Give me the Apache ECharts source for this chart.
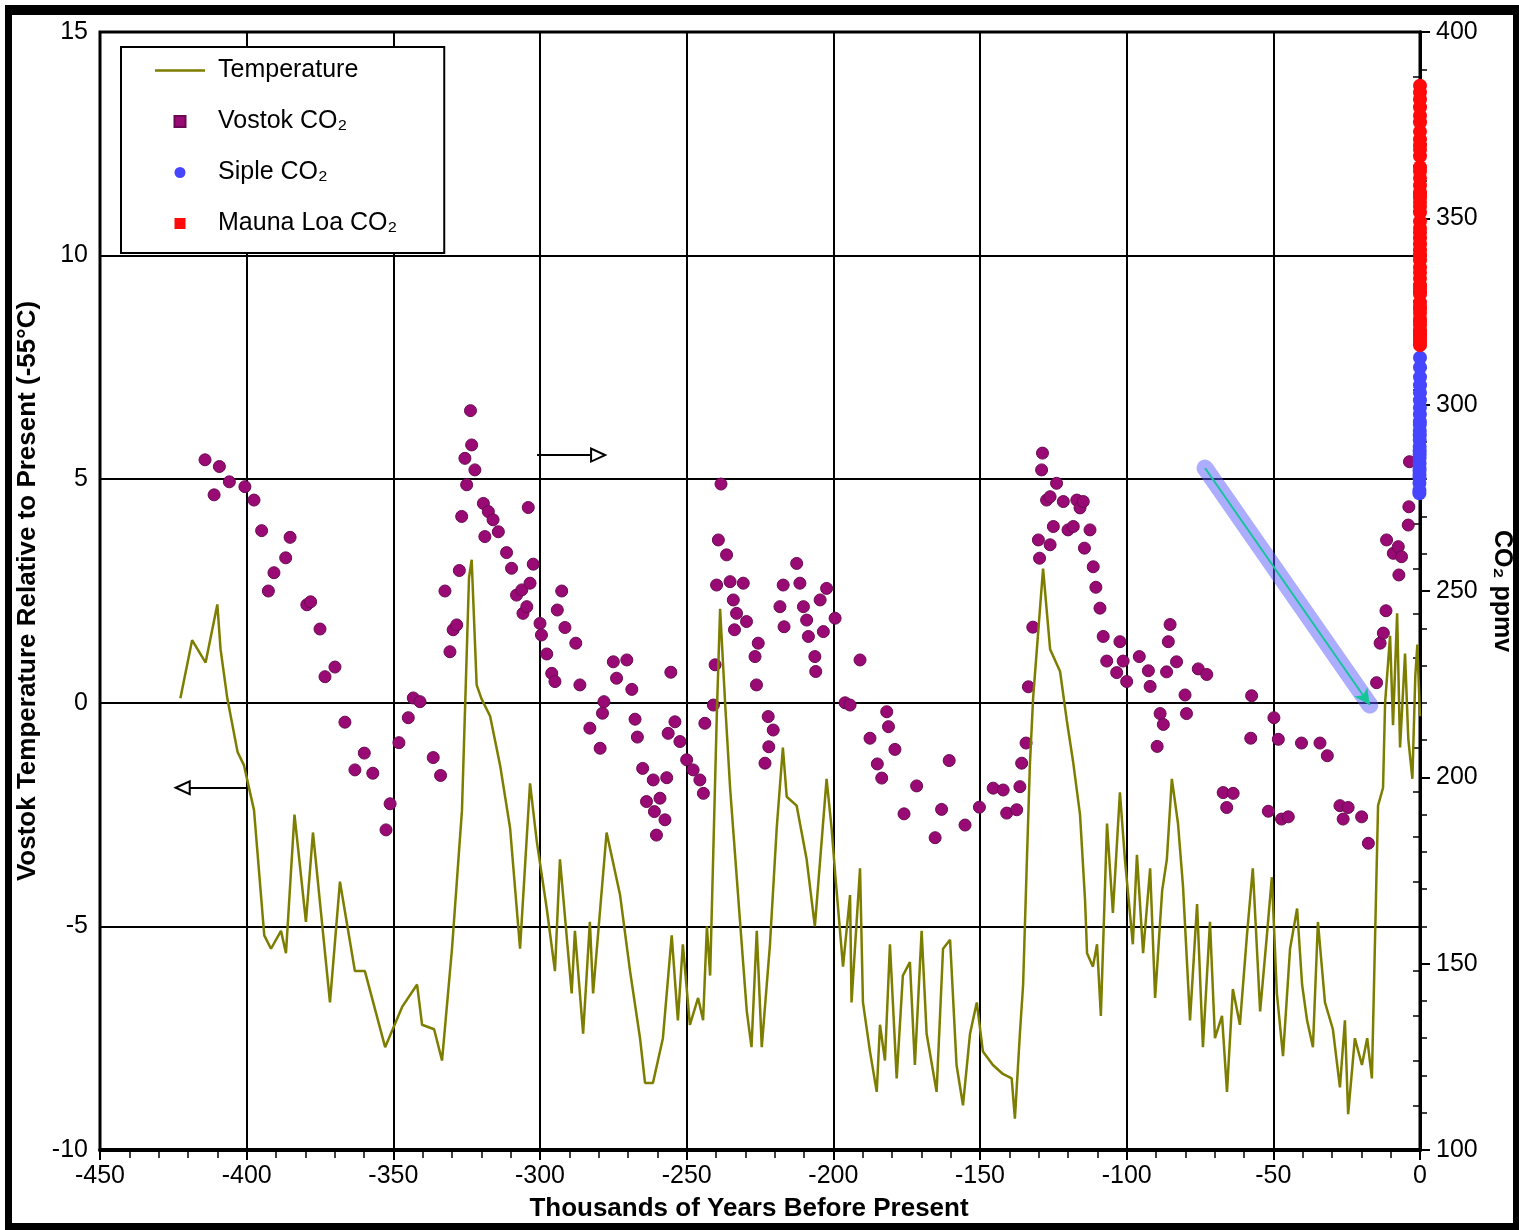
<!DOCTYPE html>
<html>
<head>
<meta charset="utf-8">
<title>Vostok temperature and CO2</title>
<script src="https://cdn.jsdelivr.net/npm/echarts/dist/echarts.min.js"></script>
<style>
	html, body { margin: 0; padding: 0; background: #fff; overflow: hidden; }
	#main { width: 1519px; height: 1230px; }
</style>
</head>
<body>
<div id="main"></div>
<script>
// 温度 (千年前, 相对现今 °C)
let tempYears = [-422.6, -418.6, -414.0, -410.0, -408.9, -406.6, -403.1, -400.9, -397.5, -394.0,
	-391.7, -388.3, -386.6, -383.7, -379.8, -377.4, -371.6, -368.2, -365.9, -363.1,
	-359.7, -352.8, -347.0, -341.9, -340.2, -336.1, -333.4, -330.0, -326.6, -324.2,
	-323.3, -321.6, -320.0, -317.0, -313.6, -310.2, -306.8, -303.4, -301.1, -297.7,
	-294.9, -293.2, -289.2, -288.1, -285.3, -283.0, -281.9, -277.3, -272.7, -269.3,
	-265.9, -264.2, -261.5, -258.1, -255.1, -253.0, -251.3, -248.9, -246.1, -244.4,
	-243.1, -242.0, -239.7, -238.6, -236.9, -235.2, -231.8, -229.5, -227.9, -226.1,
	-224.4, -221.6, -219.3, -217.2, -215.9, -212.5, -209.1, -206.3, -204.6, -202.3,
	-200.6, -199.4, -196.7, -194.3, -193.8, -190.9, -189.9, -187.5, -185.2, -184.1,
	-182.4, -180.7, -178.4, -176.3, -173.9, -172.2, -169.9, -168.2, -164.8, -162.6,
	-160.2, -158.0, -155.8, -153.4, -151.1, -149.0, -145.6, -142.2, -139.2, -138.1,
	-136.4, -135.3, -134.1, -133.0, -131.9, -128.5, -126.1, -122.7, -120.4, -118.3,
	-115.9, -114.2, -113.5, -111.5, -110.1, -108.8, -106.7, -104.7, -102.3, -100.6,
	-97.9, -96.5, -94.4, -92.0, -90.3, -87.9, -86.3, -84.6, -82.5, -80.8,
	-78.4, -76.0, -74.0, -71.6, -69.9, -67.5, -65.8, -63.8, -61.4, -59.0,
	-57.0, -54.5, -52.2, -50.5, -48.8, -46.7, -44.3, -41.9, -40.2, -38.5,
	-36.5, -34.8, -32.4, -29.7, -27.3, -25.6, -24.5, -22.2, -19.8, -18.0,
	-16.4, -15.3, -14.3, -12.6, -11.9, -10.2, -9.2, -7.8, -6.8, -5.1,
	-4.0, -2.6, -1.6, -0.9, 0.0];
let tempValues = [0.1, 1.4, 0.9, 2.2, 1.2, 0.1, -1.1, -1.4, -2.4, -5.2,
	-5.5, -5.1, -5.6, -2.5, -4.9, -2.9, -6.7, -4.0, -4.9, -6.0,
	-6.0, -7.7, -6.8, -6.3, -7.2, -7.3, -8.0, -5.5, -2.4, 2.8,
	3.2, 0.4, 0.1, -0.3, -1.4, -2.8, -5.5, -1.8, -3.1, -4.6,
	-6.0, -3.5, -6.5, -5.1, -7.4, -4.9, -6.5, -2.9, -4.3, -6.0,
	-7.5, -8.5, -8.5, -7.5, -5.2, -7.1, -5.4, -7.2, -6.6, -7.1,
	-5.0, -6.1, -0.2, 2.1, 0.0, -1.9, -4.9, -6.9, -7.7, -5.1,
	-7.7, -5.4, -2.8, -1.0, -2.1, -2.3, -3.5, -5.0, -3.6, -1.7,
	-2.8, -3.8, -5.9, -4.3, -6.7, -3.7, -6.7, -7.8, -8.7, -7.2,
	-8.0, -5.4, -8.4, -6.1, -5.8, -8.1, -5.1, -7.4, -8.7, -5.5,
	-5.3, -8.1, -9.0, -7.4, -6.7, -7.8, -8.1, -8.3, -8.4, -9.3,
	-7.4, -6.3, -3.7, -1.4, 0.1, 3.0, 1.2, 0.7, -0.4, -1.3,
	-2.5, -4.4, -5.6, -5.9, -5.4, -7.0, -2.7, -4.7, -2.0, -3.5,
	-5.4, -3.4, -5.6, -3.7, -6.6, -4.2, -3.5, -1.7, -2.7, -4.1,
	-7.1, -4.5, -7.7, -4.9, -7.5, -7.0, -8.7, -6.4, -7.2, -5.2,
	-3.7, -6.9, -5.2, -3.9, -6.5, -7.9, -5.5, -4.6, -6.3, -7.1,
	-7.7, -4.9, -6.7, -7.3, -8.6, -7.1, -9.2, -7.5, -8.1, -7.5,
	-8.4, -5.2, -2.3, -1.9, 0.0, 1.5, -0.5, 2.0, -1.0, 1.1,
	-0.8, -1.7, 0.6, 1.3, -0.3];

// Vostok 冰芯 CO2 (千年前, ppmv)
let vostokYears = [-414.2, -411.1, -409.3, -405.9, -400.6, -397.5, -394.9, -392.6, -390.7, -386.7,
	-385.2, -379.5, -378.2, -375.0, -373.3, -369.9, -366.5, -363.1, -359.9, -357.0,
	-352.5, -351.1, -348.1, -344.9, -343.2, -340.9, -336.4, -333.9, -332.4, -330.7,
	-329.6, -328.4, -327.5, -326.7, -325.6, -325.0, -323.7, -323.3, -322.2, -319.3,
	-318.8, -317.6, -316.0, -314.2, -311.4, -309.7, -308.0, -306.2, -305.8, -304.5,
	-304.0, -303.4, -302.3, -300.0, -299.5, -297.7, -296.0, -294.9, -294.1, -292.6,
	-291.5, -287.8, -286.4, -283.0, -279.5, -278.7, -278.2, -275.0, -273.9, -270.4,
	-268.7, -267.6, -266.8, -265.0, -263.7, -261.4, -261.0, -260.3, -259.1, -257.4,
	-256.8, -256.3, -255.4, -254.0, -252.3, -250.0, -247.8, -245.5, -244.3, -243.8,
	-240.9, -240.3, -239.8, -239.2, -238.3, -236.4, -235.2, -234.1, -233.7, -233.0,
	-230.7, -229.6, -226.7, -226.2, -225.6, -223.3, -222.2, -222.0, -220.5, -218.2,
	-217.1, -216.8, -212.5, -211.4, -210.2, -209.1, -208.5, -206.3, -206.0, -204.5,
	-203.4, -202.3, -199.4, -196.0, -194.3, -190.9, -187.5, -185.0, -183.5, -181.8,
	-181.2, -179.0, -175.9, -171.6, -165.3, -163.1, -160.5, -155.1, -150.2, -145.5,
	-142.1, -140.9, -137.5, -136.4, -135.8, -134.3, -133.5, -132.0, -130.1, -129.7,
	-129.0, -128.7, -127.3, -126.1, -126.1, -125.0, -123.9, -121.6, -120.0, -118.2,
	-117.0, -115.9, -114.8, -114.4, -112.5, -111.4, -110.5, -109.1, -108.0, -106.8,
	-103.4, -102.3, -101.2, -100.0, -95.7, -92.6, -92.0, -89.6, -88.6, -87.5,
	-86.4, -85.8, -85.2, -83.0, -80.1, -79.6, -75.6, -72.7, -67.1, -65.9,
	-63.7, -57.7, -57.4, -51.7, -49.8, -48.3, -47.2, -44.9, -40.4, -34.1,
	-31.6, -27.3, -26.2, -24.5, -19.9, -17.6, -14.8, -13.6, -12.5, -11.6,
	-11.4, -9.1, -7.4, -7.2, -6.3, -4.0, -3.8, -3.6];
let vostokPpm = [285.2, 275.8, 283.4, 279.3, 278.0, 274.4, 266.2, 250.0, 254.9, 258.9,
	264.4, 246.3, 247.1, 239.8, 227.0, 229.6, 214.8, 202.0, 206.5, 201.1,
	185.9, 192.9, 209.3, 216.0, 221.3, 220.3, 205.3, 200.5, 250.0, 233.7,
	239.6, 240.9, 255.5, 270.0, 285.6, 278.5, 298.4, 289.2, 282.5, 273.5,
	264.6, 271.3, 269.1, 265.9, 260.3, 256.1, 248.9, 250.3, 244.0, 245.8,
	272.4, 252.1, 257.2, 241.3, 238.2, 233.1, 227.9, 225.7, 244.9, 250.0,
	240.2, 236.0, 224.8, 213.2, 207.8, 217.2, 220.3, 231.0, 226.6, 231.5,
	223.6, 215.6, 210.8, 202.4, 193.5, 199.3, 190.8, 184.5, 194.4, 188.6,
	199.9, 211.8, 228.2, 214.9, 209.6, 204.7, 202.0, 199.3, 195.7, 214.5,
	219.4, 230.2, 251.6, 263.7, 278.7, 259.7, 252.5, 247.6, 239.6, 244.0,
	252.1, 241.8, 232.4, 224.8, 236.0, 203.8, 216.3, 208.2, 212.7, 245.8,
	251.6, 240.4, 257.4, 252.1, 245.8, 242.2, 237.8, 232.4, 228.4, 247.6,
	239.1, 250.7, 242.7, 220.0, 219.4, 231.5, 210.5, 203.6, 199.8, 217.6,
	213.6, 207.5, 190.2, 197.7, 183.8, 191.4, 204.5, 187.2, 192.0, 197.1,
	196.6, 190.4, 191.3, 197.5, 203.8, 209.2, 224.3, 240.3, 263.7, 258.8,
	282.5, 287.0, 274.4, 262.4, 275.3, 267.3, 278.9, 274.0, 266.4, 267.3,
	274.4, 272.3, 274.0, 261.5, 266.4, 256.5, 251.0, 245.4, 237.8, 231.2,
	228.1, 236.4, 231.2, 225.7, 232.4, 228.6, 224.4, 208.3, 217.1, 214.2,
	228.3, 236.4, 241.0, 231.0, 222.1, 217.1, 229.1, 227.6, 195.9, 191.9,
	195.7, 210.5, 221.9, 190.9, 216.0, 210.2, 188.8, 189.4, 209.2, 209.2,
	205.8, 192.4, 188.8, 191.9, 189.4, 182.3, 225.4, 236.0, 238.7, 244.7,
	263.7, 260.1, 261.9, 254.3, 259.2, 267.7, 272.6, 284.7];

// Siple 冰芯 CO2
let sipleYears = [-0.21, -0.2, -0.19, -0.18, -0.17, -0.16, -0.15, -0.14, -0.13, -0.12,
	-0.11, -0.1, -0.09, -0.08, -0.07, -0.06, -0.05, -0.04, -0.03, -0.02,
	-0.01, 0, 0, 0, 0];
let siplePpm = [276.2, 277.0, 279.0, 280.4, 281.2, 282.3, 283.0, 284.2, 285.7, 286.6,
	287.5, 288.7, 290.5, 291.8, 293.0, 294.6, 295.5, 297.4, 299.2, 301.2,
	303.2, 305.2, 307.4, 310.0, 312.6];

// Mauna Loa 年均 CO2
let maunaYears = [0, 0, 0, 0, 0, 0, 0, 0, 0, 0,
	0, 0, 0, 0, 0, 0, 0, 0, 0, 0,
	0, 0, 0, 0, 0, 0, 0, 0, 0, 0,
	0, 0, 0, 0, 0, 0, 0, 0, 0, 0,
	0, 0, 0, 0, 0, 0, 0, 0, 0, 0];
let maunaPpm = [315.97, 316.91, 317.64, 318.45, 318.99, 319.62, 320.04, 321.38, 322.16, 323.04,
	324.62, 325.68, 326.32, 327.45, 329.68, 330.18, 331.11, 332.04, 333.83, 335.40,
	336.84, 338.75, 340.11, 341.45, 343.05, 344.65, 346.12, 347.42, 349.19, 351.57,
	353.12, 354.39, 355.61, 356.45, 357.10, 358.83, 360.82, 362.61, 363.73, 366.70,
	368.38, 369.55, 371.14, 373.28, 375.80, 377.52, 379.80, 381.90, 383.76, 385.59];

function pairs(xs, ys) {
	let out = [];
	for (let i = 0; i < xs.length; i++) {
		out.push([xs[i], ys[i]]);
	}
	return out;
}

const font = 'Liberation Sans, Arial, sans-serif';
const square = 'path://M0,0H10V10H0Z';
const dash = 'path://M0,0H50V2.4H0Z';

let myChart = echarts.init(document.getElementById('main'));

let option = {
	backgroundColor: '#fff',
	animation: false,
	textStyle: { fontFamily: font, color: '#000' },
	grid: {
		left: 100, right: 99, top: 32, bottom: 80,
		containLabel: false,
		outerBoundsMode: 'none',
		show: true, borderColor: '#000', borderWidth: 3,
		backgroundColor: 'transparent'
	},
	legend: {
		orient: 'vertical',
		left: 121, top: 47,
		padding: [11, 47, 17, 34],
		backgroundColor: '#fff',
		borderColor: '#000',
		borderWidth: 2,
		itemWidth: 50,
		itemHeight: 11,
		itemGap: 26,
		textStyle: { fontFamily: font, fontSize: 25, color: '#000', padding: [0, 0, 0, 8] },
		data: [
			{ name: 'Temperature', icon: dash },
			{ name: 'Vostok CO₂', icon: square },
			{ name: 'Siple CO₂', icon: 'circle' },
			{ name: 'Mauna Loa CO₂', icon: square }
		]
	},
	xAxis: {
		type: 'value',
		min: -450, max: 0, interval: 50,
		name: 'Thousands of Years Before Present',
		nameLocation: 'middle',
		nameGap: 46,
		nameTextStyle: { fontFamily: font, fontSize: 26, fontWeight: 'bold', color: '#000', padding: [0, 22, 0, 0] },
		axisLine: { show: true, onZero: false, lineStyle: { color: '#000', width: 4 } },
		axisTick: { show: true, length: 10, lineStyle: { color: '#000', width: 2 } },
		minorTick: { show: true, splitNumber: 5, length: 8, lineStyle: { color: '#000', width: 1.5 } },
		splitLine: { show: true, lineStyle: { color: '#000', width: 2 } },
		axisLabel: { color: '#000', fontFamily: font, fontSize: 25, margin: 14 }
	},
	yAxis: [
		{
			type: 'value',
			position: 'left',
			min: -10, max: 15, interval: 5,
			name: 'Vostok Temperature Relative to Present (-55°C)',
			nameLocation: 'middle',
			nameGap: 58,
			nameTextStyle: { fontFamily: font, fontSize: 26, fontWeight: 'bold', color: '#000' },
			axisLine: { show: true, lineStyle: { color: '#000', width: 3 } },
			axisTick: { show: true, length: 10, lineStyle: { color: '#000', width: 2 } },
			minorTick: { show: true, splitNumber: 5, length: 7, lineStyle: { color: '#000', width: 1.5 } },
			splitLine: { show: true, lineStyle: { color: '#000', width: 2 } },
			axisLabel: { color: '#000', fontFamily: font, fontSize: 25, margin: 12 }
		},
		{
			type: 'value',
			position: 'right',
			min: 100, max: 400, interval: 50,
			name: 'CO₂ ppmv',
			nameLocation: 'middle',
			nameRotate: -90,
			nameGap: 69,
			nameTextStyle: { fontFamily: font, fontSize: 25, fontWeight: 'bold', color: '#000' },
			axisLine: { show: true, lineStyle: { color: '#000', width: 3 } },
			axisTick: { show: true, length: 10, lineStyle: { color: '#000', width: 2 } },
			minorTick: { show: true, splitNumber: 5, length: 7, lineStyle: { color: '#000', width: 1.5 } },
			splitLine: { show: false },
			axisLabel: { color: '#000', fontFamily: font, fontSize: 25, margin: 16 }
		}
	],
	series: [
		{
			name: 'Vostok CO₂',
			type: 'scatter',
			yAxisIndex: 1,
			symbol: 'circle',
			symbolSize: 12,
			clip: false,
			itemStyle: { color: '#990a74', borderColor: '#6a0a52', borderWidth: 1, opacity: 1 },
			data: pairs(vostokYears, vostokPpm)
		},
		{
			name: 'Temperature',
			type: 'line',
			yAxisIndex: 0,
			symbol: 'none',
			showSymbol: false,
			lineStyle: { color: '#7d7d00', width: 2.5 },
			itemStyle: { color: '#7d7d00' },
			data: pairs(tempYears, tempValues),
			markLine: {
				silent: true,
				animation: false,
				symbol: ['none', 'none'],
				label: { show: false },
				emphasis: { disabled: true },
				data: [
					// 左箭头: 温度用左轴
					[
						{ coord: [-400, -1.9], symbol: 'none', lineStyle: { color: '#000', width: 2, type: 'solid' } },
						{ coord: [-421.8, -1.9], symbol: 'emptyTriangle', symbolSize: [13, 14] }
					],
					// 右箭头: CO2 用右轴
					[
						{ coord: [-301, 5.54], symbol: 'none', lineStyle: { color: '#000', width: 2, type: 'solid' } },
						{ coord: [-280.2, 5.54], symbol: 'emptyTriangle', symbolSize: [13, 14] }
					],
					// 斜向箭头 (蓝色光晕)
					[
						{ coord: [-73.3, 5.25], symbol: 'none', lineStyle: { color: 'rgba(92,92,255,0.5)', width: 17, type: 'solid', cap: 'round' } },
						{ coord: [-17.1, -0.05], symbol: 'none' }
					],
					[
						{ coord: [-73.3, 5.25], symbol: 'none', lineStyle: { color: '#16c49a', width: 2, type: 'solid' } },
						{ coord: [-17.1, -0.05], symbol: 'arrow', symbolSize: [12, 16] }
					]
				]
			}
		},
		{
			name: 'Siple CO₂',
			type: 'scatter',
			yAxisIndex: 1,
			symbol: 'circle',
			symbolSize: 14,
			clip: false,
			itemStyle: { color: '#4646ff', opacity: 1 },
			data: pairs(sipleYears, siplePpm)
		},
		{
			name: 'Mauna Loa CO₂',
			type: 'scatter',
			yAxisIndex: 1,
			symbol: 'circle',
			symbolSize: 14,
			clip: false,
			itemStyle: { color: '#ff0a0a', opacity: 1 },
			data: pairs(maunaYears, maunaPpm)
		}
	],
	graphic: [
		// 外框
		{ type: 'rect', silent: true, shape: { x: 5, y: 5, width: 1514, height: 10 }, style: { fill: '#000' } },
		{ type: 'rect', silent: true, shape: { x: 5, y: 5, width: 7, height: 1225 }, style: { fill: '#000' } },
		{ type: 'rect', silent: true, shape: { x: 5, y: 1223, width: 1514, height: 7 }, style: { fill: '#000' } },
		{ type: 'rect', silent: true, shape: { x: 1513, y: 5, width: 6, height: 1225 }, style: { fill: '#000' } }
	]
};

myChart.setOption(option);
</script>
</body>
</html>
